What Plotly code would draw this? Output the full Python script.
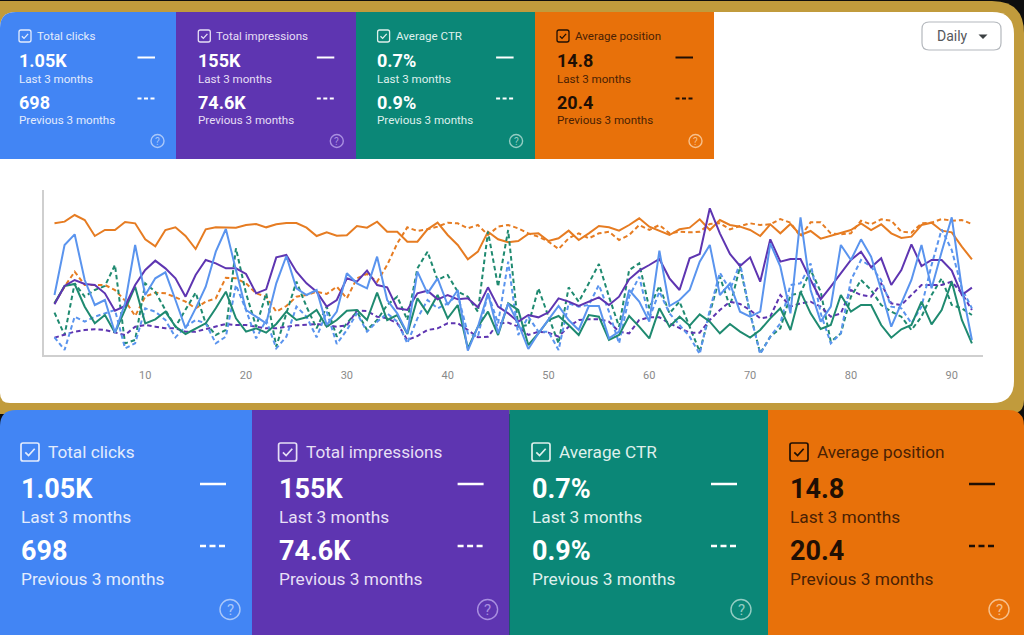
import plotly.graph_objects as go

WIDTH, HEIGHT = 1024, 635

days = list(range(1, 93))
tick_days = [10, 20, 30, 40, 50, 60, 70, 80, 90]

position_last = [395,400,420,405,357,375,375,399,395,347,326,375,383,357,318,377,383,382,382,390,393,383,392,396,396,382,357,368,358,359,
                 387,382,400,370,370,340,340,377,397,360,330,287,310,370,347,338,342,363,365,342,350,373,345,365,387,383,373,390,410,385,372,
                 360,377,382,407,375,405,390,385,375,357,392,365,393,360,372,349,357,365,375,395,375,392,365,351,355,390,397,373,368,325,287]
position_prev = [155,205,250,210,210,210,195,163,117,175,187,185,173,160,140,160,170,232,230,215,185,175,130,147,175,180,190,183,205,170,
                 230,243,220,270,335,383,372,377,385,397,395,380,390,360,385,390,380,365,355,340,318,350,365,350,365,370,345,360,390,375,390,
                 365,370,368,370,393,395,377,387,395,390,392,408,397,355,398,398,365,362,365,403,392,407,403,370,367,395,397,408,403,405,393]
clicks_last = [180,330,362,225,150,165,67,155,330,180,230,248,165,80,140,205,310,378,255,135,115,95,215,297,200,180,195,90,130,245,
               215,200,295,165,125,65,250,185,230,150,195,13,85,185,65,155,95,18,65,105,147,105,75,147,147,50,70,195,160,100,313,
               147,165,195,280,330,180,215,130,115,130,335,265,125,413,195,100,145,330,285,347,295,195,85,155,225,330,200,310,413,200,45]
clicks_prev = [53,15,115,100,115,125,135,20,35,140,130,105,53,85,105,95,35,55,210,135,50,105,20,55,145,115,53,130,33,75,
               125,70,100,125,100,35,110,165,140,155,180,65,55,185,95,280,60,115,70,70,15,155,145,150,210,130,35,175,235,110,190,
               125,90,55,3,135,247,195,275,125,3,55,95,210,215,275,125,35,65,225,285,265,225,145,140,95,145,270,377,315,200,140]
impressions_last = [152,207,225,213,210,185,133,147,210,255,283,260,230,175,240,285,275,260,260,243,185,197,293,300,250,215,190,145,165,230,
                    220,253,210,203,140,135,185,193,167,180,167,170,143,203,145,125,100,120,113,128,170,160,147,160,173,150,175,227,253,270,288,
                    230,195,290,303,440,365,303,267,293,220,347,280,288,288,225,167,205,245,285,310,263,290,210,255,332,267,285,285,253,180,202]
impressions_prev = [52,60,70,75,77,75,67,60,85,90,85,80,80,70,70,77,85,93,90,90,85,80,80,85,89,91,93,89,85,89,
                    133,132,115,110,95,45,57,75,80,95,95,75,53,55,95,97,85,60,70,67,55,85,105,107,107,100,70,65,105,113,113,
                    95,80,67,67,105,135,160,153,135,110,115,180,145,155,160,145,115,125,195,180,175,215,155,150,180,210,210,210,220,185,135]
ctr_last = [155,207,213,145,95,120,67,135,205,95,107,130,85,63,80,95,140,190,110,70,80,67,93,130,105,113,135,85,105,133,
            135,105,187,105,120,63,170,125,180,110,150,20,85,130,60,155,135,30,65,105,117,90,60,120,115,45,60,117,85,50,140,
            85,115,88,122,100,65,93,70,52,75,110,140,75,190,125,78,90,180,130,150,150,90,52,77,90,160,92,135,220,105,35]
ctr_prev = [127,60,215,175,195,207,270,35,45,215,190,135,85,135,187,95,60,75,320,185,85,185,25,125,220,145,80,145,55,95,
            130,75,105,150,175,105,260,310,225,240,190,175,130,370,205,375,85,90,200,115,35,203,160,215,273,175,85,255,275,140,207,
            125,160,85,10,125,235,145,265,125,5,55,80,180,185,255,190,40,65,175,225,195,150,130,115,75,115,180,230,150,140,120]

metric_titles = ["Total clicks", "Total impressions", "Average CTR", "Average position"]
last_values = ["1.05K", "155K", "0.7%", "14.8"]
prev_values = ["698", "74.6K", "0.9%", "20.4"]
last_label = "Last 3 months"
prev_label = "Previous 3 months"

BLUE, PURPLE, GREEN, ORANGE = "#4285f4", "#5e35b1", "#0b8777", "#e8710a"
LINE_BLUE, LINE_PURPLE, LINE_GREEN, LINE_ORANGE = "#5a94ee", "#5e35b1", "#1f8a70", "#e67c22"
GOLD, DARK = "#c19b3c", "#0e0e0e"
card_colors = [BLUE, PURPLE, GREEN, ORANGE]
ink = ["#ffffff", "#ffffff", "#ffffff", "#1f0f04"]
soft_ink = ["#e3ecfd", "#e6dff5", "#dff0ec", "#4a2104"]
help_ink = ["#a9c7f9", "#a98fe0", "#93cdc3", "#f7c08c"]


def fx(x):
    return x / WIDTH


def fy(y):
    return 1 - y / HEIGHT


def P(cmd, *pts):
    out = cmd
    for x, y in pts:
        out += f" {fx(x):.5f},{fy(y):.5f}"
    return out + " "


def rounded(x0, y0, x1, y1, tl=0, tr=0, br=0, bl=0):
    return (P("M", (x0 + tl, y0)) + P("L", (x1 - tr, y0)) + P("Q", (x1, y0), (x1, y0 + tr))
            + P("L", (x1, y1 - br)) + P("Q", (x1, y1), (x1 - br, y1)) + P("L", (x0 + bl, y1))
            + P("Q", (x0, y1), (x0, y1 - bl)) + P("L", (x0, y0 + tl)) + P("Q", (x0, y0), (x0 + tl, y0)) + "Z")


shapes = []
annotations = []


def area(path, fill, line=None, width=0, layer="below"):
    shapes.append(dict(type="path", path=path, xref="paper", yref="paper", fillcolor=fill,
                       line=dict(color=line or fill, width=width), layer=layer))


def stroke(x0, y0, x1, y1, color, width, dash="solid"):
    shapes.append(dict(type="line", x0=fx(x0), y0=fy(y0), x1=fx(x1), y1=fy(y1), xref="paper",
                       yref="paper", line=dict(color=color, width=width, dash=dash), layer="below"))


def label(x, y, text, size, color, bold=False, anchor="left"):
    annotations.append(dict(x=fx(x), y=fy(y), xref="paper", yref="paper", text=f"<b>{text}</b>" if bold else text,
                            showarrow=False, xanchor=anchor, yanchor="middle", align=anchor,
                            borderpad=0, borderwidth=0,
                            font=dict(family="Roboto", size=size, color=color)))


def checkbox(x, y, s, color, width):
    area(rounded(x, y, x + s, y + s, 2, 2, 2, 2), "rgba(0,0,0,0)", color, width)
    shapes.append(dict(type="path", xref="paper", yref="paper", fillcolor="rgba(0,0,0,0)", layer="below",
                       path=P("M", (x + .24 * s, y + .52 * s)) + P("L", (x + .42 * s, y + .70 * s)) + P("L", (x + .76 * s, y + .32 * s)),
                       line=dict(color=color, width=width)))


def help_icon(cx, cy, r, color, size):
    shapes.append(dict(type="circle", xref="paper", yref="paper", x0=fx(cx - r), x1=fx(cx + r), y0=fy(cy - r), y1=fy(cy + r),
                       line=dict(color=color, width=1.4), fillcolor="rgba(0,0,0,0)", layer="below"))
    label(cx, cy, "?", size, color, anchor="center")


# Backdrop: gold frame, white chart panel and the dark corners around them
area(rounded(0, 0, WIDTH, HEIGHT), DARK)
area(rounded(0, 1, WIDTH, 414, 0, 32, 14, 0), GOLD)
area(rounded(0, 12, 1014, 403, 16, 22, 22, 10), "#ffffff")

# Top row of metric cards
top_edges = [0, 176, 356, 535, 714]
top_offsets = [0, 179.3, 358.6, 538]
for i, dx in enumerate(top_offsets):
    left, right = top_edges[i], top_edges[i + 1]
    area(rounded(left, 12, right, 159, 16 if i == 0 else 0), card_colors[i])
    box_line = ink[i] if i == 3 else soft_ink[i]
    checkbox(19 + dx, 30, 12, box_line, 1.3)
    label(37 + dx, 35.5, metric_titles[i], 11.6, soft_ink[i])
    label(18.5 + dx, 60.5, last_values[i], 18, ink[i], bold=True)
    label(18.5 + dx, 79, last_label, 11.6, soft_ink[i])
    label(18.5 + dx, 102, prev_values[i], 18, ink[i], bold=True)
    label(18.5 + dx, 120, prev_label, 11.6, soft_ink[i])
    stroke(137.5 + dx, 57.5, 155 + dx, 57.5, ink[i], 2)
    stroke(137.5 + dx, 98.5, 155 + dx, 98.5, ink[i], 2, "4px,2.5px")
    help_icon(157.5 + dx, 141, 6.5, help_ink[i], 10)

# Bottom row of metric cards
bottom_edges = [0, 252, 509.5, 768, WIDTH]
bottom_offsets = [0, 257.6, 511, 769]
for i, dx in enumerate(bottom_offsets):
    left, right = bottom_edges[i], bottom_edges[i + 1]
    area(rounded(left, 410, right, HEIGHT, 16 if i == 0 else 0, 16 if i == 3 else 0), card_colors[i])
    box_line = ink[i] if i == 3 else soft_ink[i]
    checkbox(21 + dx, 443, 18, box_line, 1.7)
    label(48 + dx, 452, metric_titles[i], 17.2, soft_ink[i])
    label(21 + dx, 489, last_values[i], 27, ink[i], bold=True)
    label(21 + dx, 517, last_label, 17.3, soft_ink[i])
    label(21 + dx, 551, prev_values[i], 27, ink[i], bold=True)
    label(21 + dx, 579, prev_label, 17.3, soft_ink[i])
    stroke(200 + dx, 484, 226 + dx, 484, ink[i], 2.5)
    stroke(200 + dx, 546, 226 + dx, 546, ink[i], 2.5, "6px,3.5px")
    help_icon(230 + dx, 609.5, 10, help_ink[i], 15)

# Granularity selector
area(rounded(922, 22, 1001, 50, 7, 7, 7, 7), "#ffffff", "#b4b8bd", 1.2)
label(937, 36.5, "Daily", 14, "#55585c")
area(P("M", (978.5, 34.5)) + P("L", (987.5, 34.5)) + P("L", (983, 39)) + "Z", "#3c4043")

# Previous-period series are dashed, current-period series solid
series = [
    ("Average position (previous)", position_prev, LINE_ORANGE, True),
    ("Average position", position_last, LINE_ORANGE, False),
    ("Average CTR (previous)", ctr_prev, LINE_GREEN, True),
    ("Impressions (previous)", impressions_prev, LINE_PURPLE, True),
    ("Clicks (previous)", clicks_prev, LINE_BLUE, True),
    ("Average CTR", ctr_last, LINE_GREEN, False),
    ("Impressions", impressions_last, LINE_PURPLE, False),
    ("Clicks", clicks_last, LINE_BLUE, False),
]

fig = go.Figure()
for name, values, color, dashed in series:
    fig.add_trace(go.Scatter(x=days, y=values, mode="lines", name=name, hoverinfo="skip",
                             line=dict(color=color, width=2, dash="4.5px,3px" if dashed else "solid")))

fig.update_layout(
    width=WIDTH, height=HEIGHT, margin=dict(l=0, r=0, t=0, b=0), autosize=False,
    paper_bgcolor=DARK, plot_bgcolor="rgba(0,0,0,0)", showlegend=False,
    shapes=shapes, annotations=annotations,
    xaxis=dict(domain=[fx(44), fx(983)], range=[-0.04, 93.1], tickvals=tick_days, showgrid=False, zeroline=False,
               showline=True, linecolor="#cfcfcf", linewidth=2, ticks="outside", ticklen=9, tickcolor="rgba(0,0,0,0)",
               tickfont=dict(family="Roboto", size=11, color="#8a8a8a")),
    yaxis=dict(domain=[fy(355), fy(190)], range=[0, 495], showticklabels=False, showgrid=False, zeroline=False,
               showline=True, linecolor="#cfcfcf", linewidth=2, ticks=""),
)

fig.write_html("out.html", config={"displayModeBar": False})
